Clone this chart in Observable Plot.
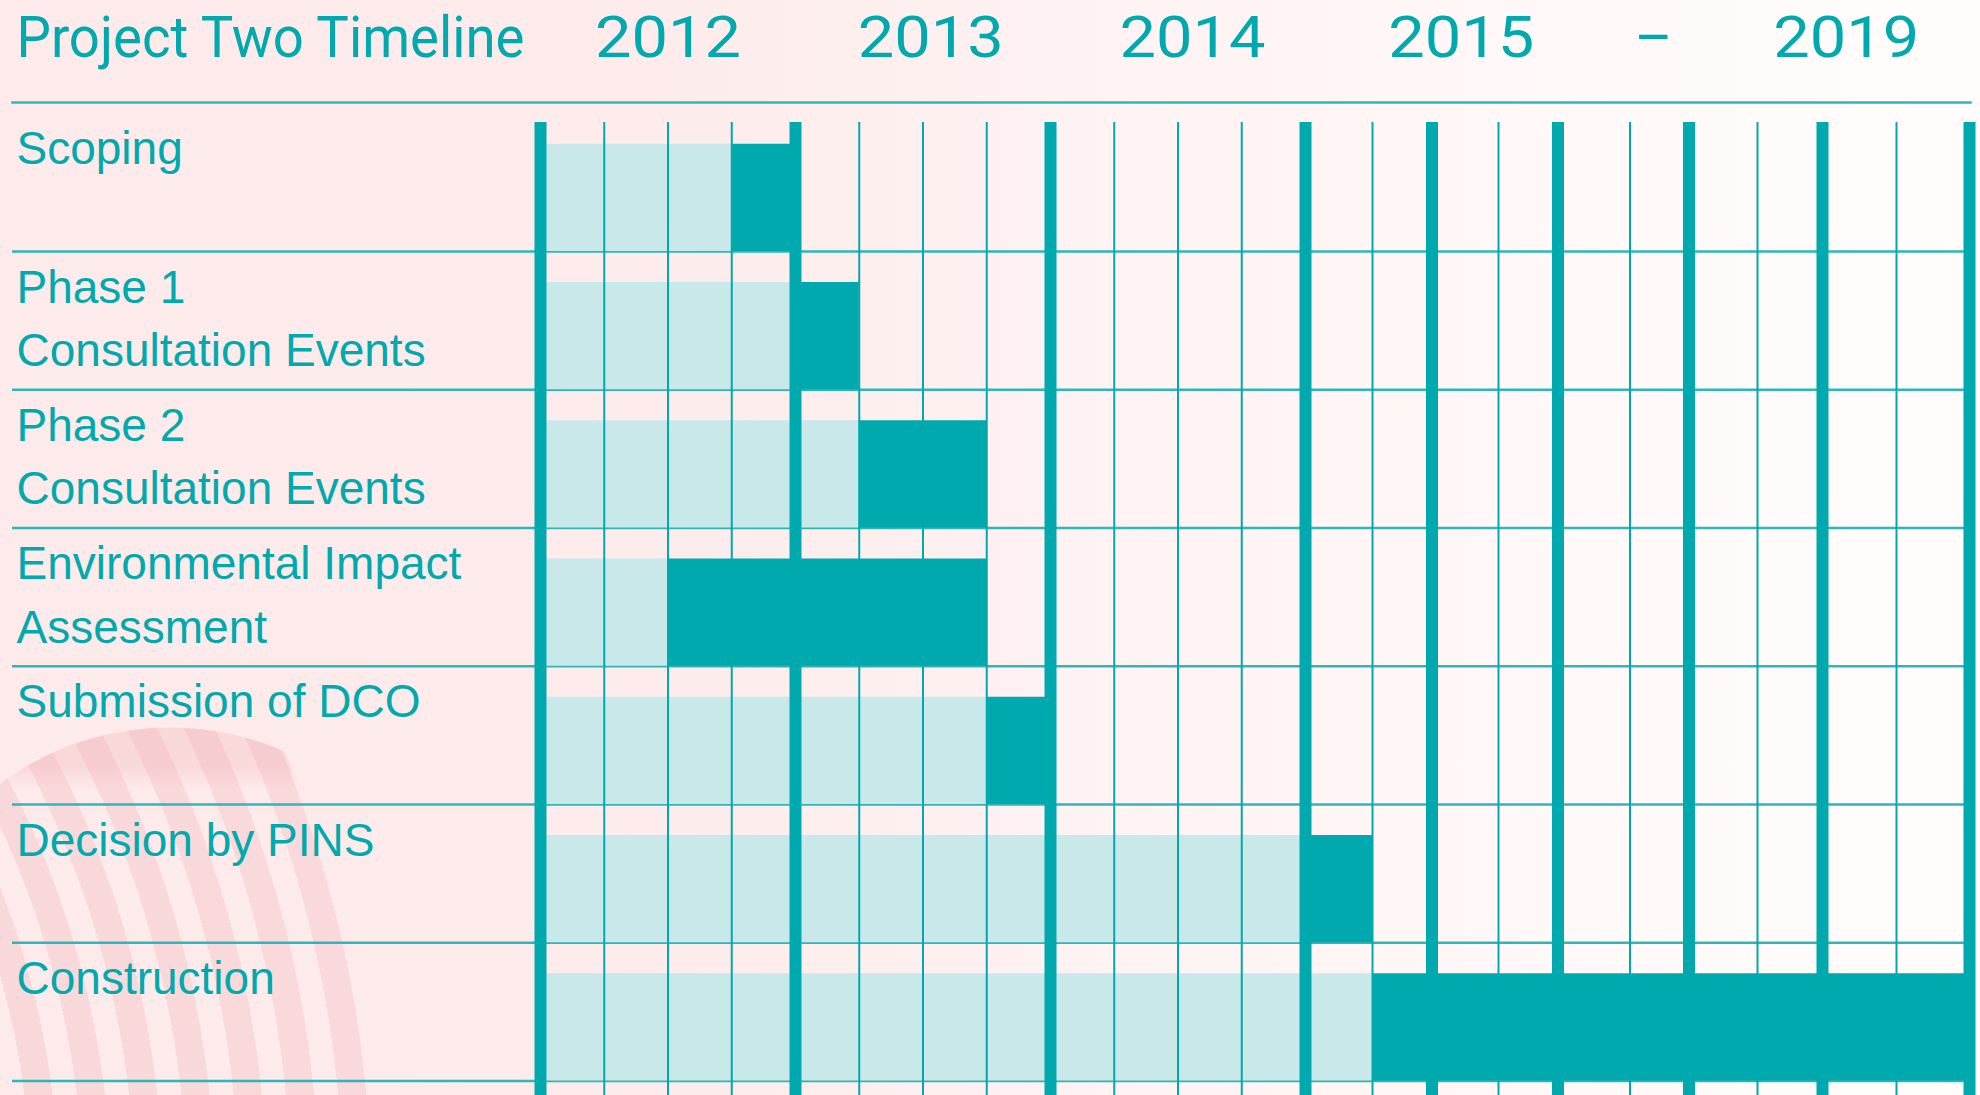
<!DOCTYPE html>
<html>
<head>
<meta charset="utf-8">
<script src="https://cdn.jsdelivr.net/npm/d3@7"></script>
<script src="https://cdn.jsdelivr.net/npm/@observablehq/plot@0.6"></script>
<style>
html, body { margin: 0; padding: 0; }
body {
  width: 1980px; height: 1095px; overflow: hidden; position: relative;
  background: linear-gradient(to right, #fdeaea 0%, #fdecec 35%, #fff4f4 62%, #fffafa 85%, #fffcfc 100%);
}
#deco {
  position: absolute; left: 0; top: 727px; width: 520px; height: 368px;
  -webkit-mask-image: radial-gradient(circle 1175px at -800px 473px, #000 0 99.8%, transparent 100%);
  mask-image: radial-gradient(circle 1175px at -800px 473px, #000 0 99.8%, transparent 100%);
}
.inner {
  position: absolute; left: 0; top: 0; width: 520px; height: 368px;
  -webkit-mask-image: radial-gradient(ellipse 260px 233px at 170px 233px, #000 0 99.5%, transparent 100%), linear-gradient(#000, #000);
  -webkit-mask-size: 100% 100%, 520px 135px;
  -webkit-mask-position: 0 0, 0 233px;
  -webkit-mask-repeat: no-repeat;
  mask-image: radial-gradient(ellipse 260px 233px at 170px 233px, #000 0 99.5%, transparent 100%), linear-gradient(#000, #000);
  mask-size: 100% 100%, 520px 135px;
  mask-position: 0 0, 0 233px;
  mask-repeat: no-repeat;
}
#stripes {
  background: repeating-radial-gradient(circle at -800px 473px,
    rgba(240, 170, 178, 0.27) 0 27px, rgba(240, 170, 178, 0) 27px 51px, rgba(240, 170, 178, 0.27) 51px 52px);
}
#band {
  background: linear-gradient(to bottom, rgba(240, 170, 178, 0.27) 0 40px, rgba(240, 170, 178, 0) 62px);
}
#chart { position: absolute; left: 0; top: 0; }
#chart svg { background: transparent; overflow: visible; }
</style>
</head>
<body>
<div id="deco"><div id="stripes" class="inner"></div><div id="band" class="inner"></div></div>
<div id="chart"></div>
<script>
// ---- data ----
const tasks = [
  "Scoping",
  "Phase 1\nConsultation Events",
  "Phase 2\nConsultation Events",
  "Environmental Impact\nAssessment",
  "Submission of DCO",
  "Decision by PINS",
  "Construction"
];
const taskStart = [2012.75, 2013.0, 2013.25, 2012.5, 2013.75, 2015.0, 2015.5];
const taskEnd   = [2013.0, 2013.25, 2013.75, 2013.75, 2014.0, 2015.5, 2020.0];
const timelineStart = 2012;
const yearLines = [2012, 2013, 2014, 2015, 2016, 2017, 2018, 2019, 2020];
const subLines = [2012.25, 2012.5, 2012.75, 2013.25, 2013.5, 2013.75, 2014.25, 2014.5, 2014.75,
                  2015.5, 2016.5, 2017.5, 2018.5, 2019.5];
const headerLabels = ["2012", "2013", "2014", "2015", "–", "2019"];
const headerPos = [2012.5, 2013.53, 2014.557, 2016.22, 2017.7, 2019.16];
const titleText = "Project Two Timeline";

// ---- styles ----
const teal = "#00a9ad";
const lineTeal = "#2db7b9";
const light = "#c9e8e9";

const rows = tasks.map((t, i) => ({task: t, start: taskStart[i], end: taskEnd[i], row: i}));

const chart = Plot.plot({
  width: 1980,
  height: 1095,
  marginTop: 102,
  marginBottom: 0,
  marginLeft: 12,
  marginRight: 10,
  style: {background: "transparent"},
  x: {
    type: "linear",
    // hand-drawn column widths: piecewise scale calibrated on the column boundaries
    domain: [2012, 2015, 2015.5, 2016, 2016.5, 2017, 2017.5, 2018, 2018.5, 2019, 2019.5, 2020],
    range:  [540, 1305, 1372, 1431.5, 1498, 1557.5, 1629.5, 1688.5, 1757, 1822, 1896, 1969],
    axis: null
  },
  y: {type: "linear", domain: [0, tasks.length], range: [112.75, 1080.5], axis: null},
  marks: [
    Plot.frame({anchor: "top", stroke: lineTeal, strokeWidth: 2.5}),
    Plot.ruleY(rows, {y: d => d.row + 1, stroke: lineTeal, strokeWidth: 2.5}),
    Plot.rect(rows, {x1: () => timelineStart, x2: "start", y1: "row", y2: d => d.row + 1, insetTop: 31, fill: light}),
    Plot.ruleX(subLines, {stroke: teal, strokeWidth: 2, insetTop: 20}),
    Plot.ruleX(yearLines, {stroke: teal, strokeWidth: 12, insetTop: 20}),
    Plot.rect(rows, {x1: "start", x2: "end", y1: "row", y2: d => d.row + 1, insetTop: 31, fill: teal}),
    Plot.text(rows, {
      text: "task", y: "row", frameAnchor: "left", dx: 4, dy: 6,
      lineAnchor: "top", textAnchor: "start", lineHeight: 1.38,
      fontSize: 46, fontFamily: "'Liberation Sans', Arial, sans-serif", fill: teal
    }),
    Plot.text(headerLabels, {
      x: headerPos, text: d => d, frameAnchor: "top", lineAnchor: "top", dy: -87,
      fontSize: 58, fontFamily: "Roboto, sans-serif", fontWeight: 400, fill: teal
    }),
    Plot.text([titleText], {
      text: d => d, frameAnchor: "top-left", dx: 4, lineAnchor: "top", dy: -87, textAnchor: "start",
      fontSize: 58, fontFamily: "Roboto, sans-serif", fontWeight: 400, fill: teal
    })
  ]
});
document.getElementById("chart").appendChild(chart);

// condensed display lettering: fit header texts to the reference widths
d3.select(chart).selectAll("text").each(function () {
  const t = this.textContent;
  if (t === titleText) {
    this.setAttribute("textLength", 508);
    this.setAttribute("lengthAdjust", "spacingAndGlyphs");
  } else if (/^\d{4}$/.test(t)) {
    this.setAttribute("textLength", 146);
    this.setAttribute("lengthAdjust", "spacingAndGlyphs");
  }
});
</script>
</body>
</html>
